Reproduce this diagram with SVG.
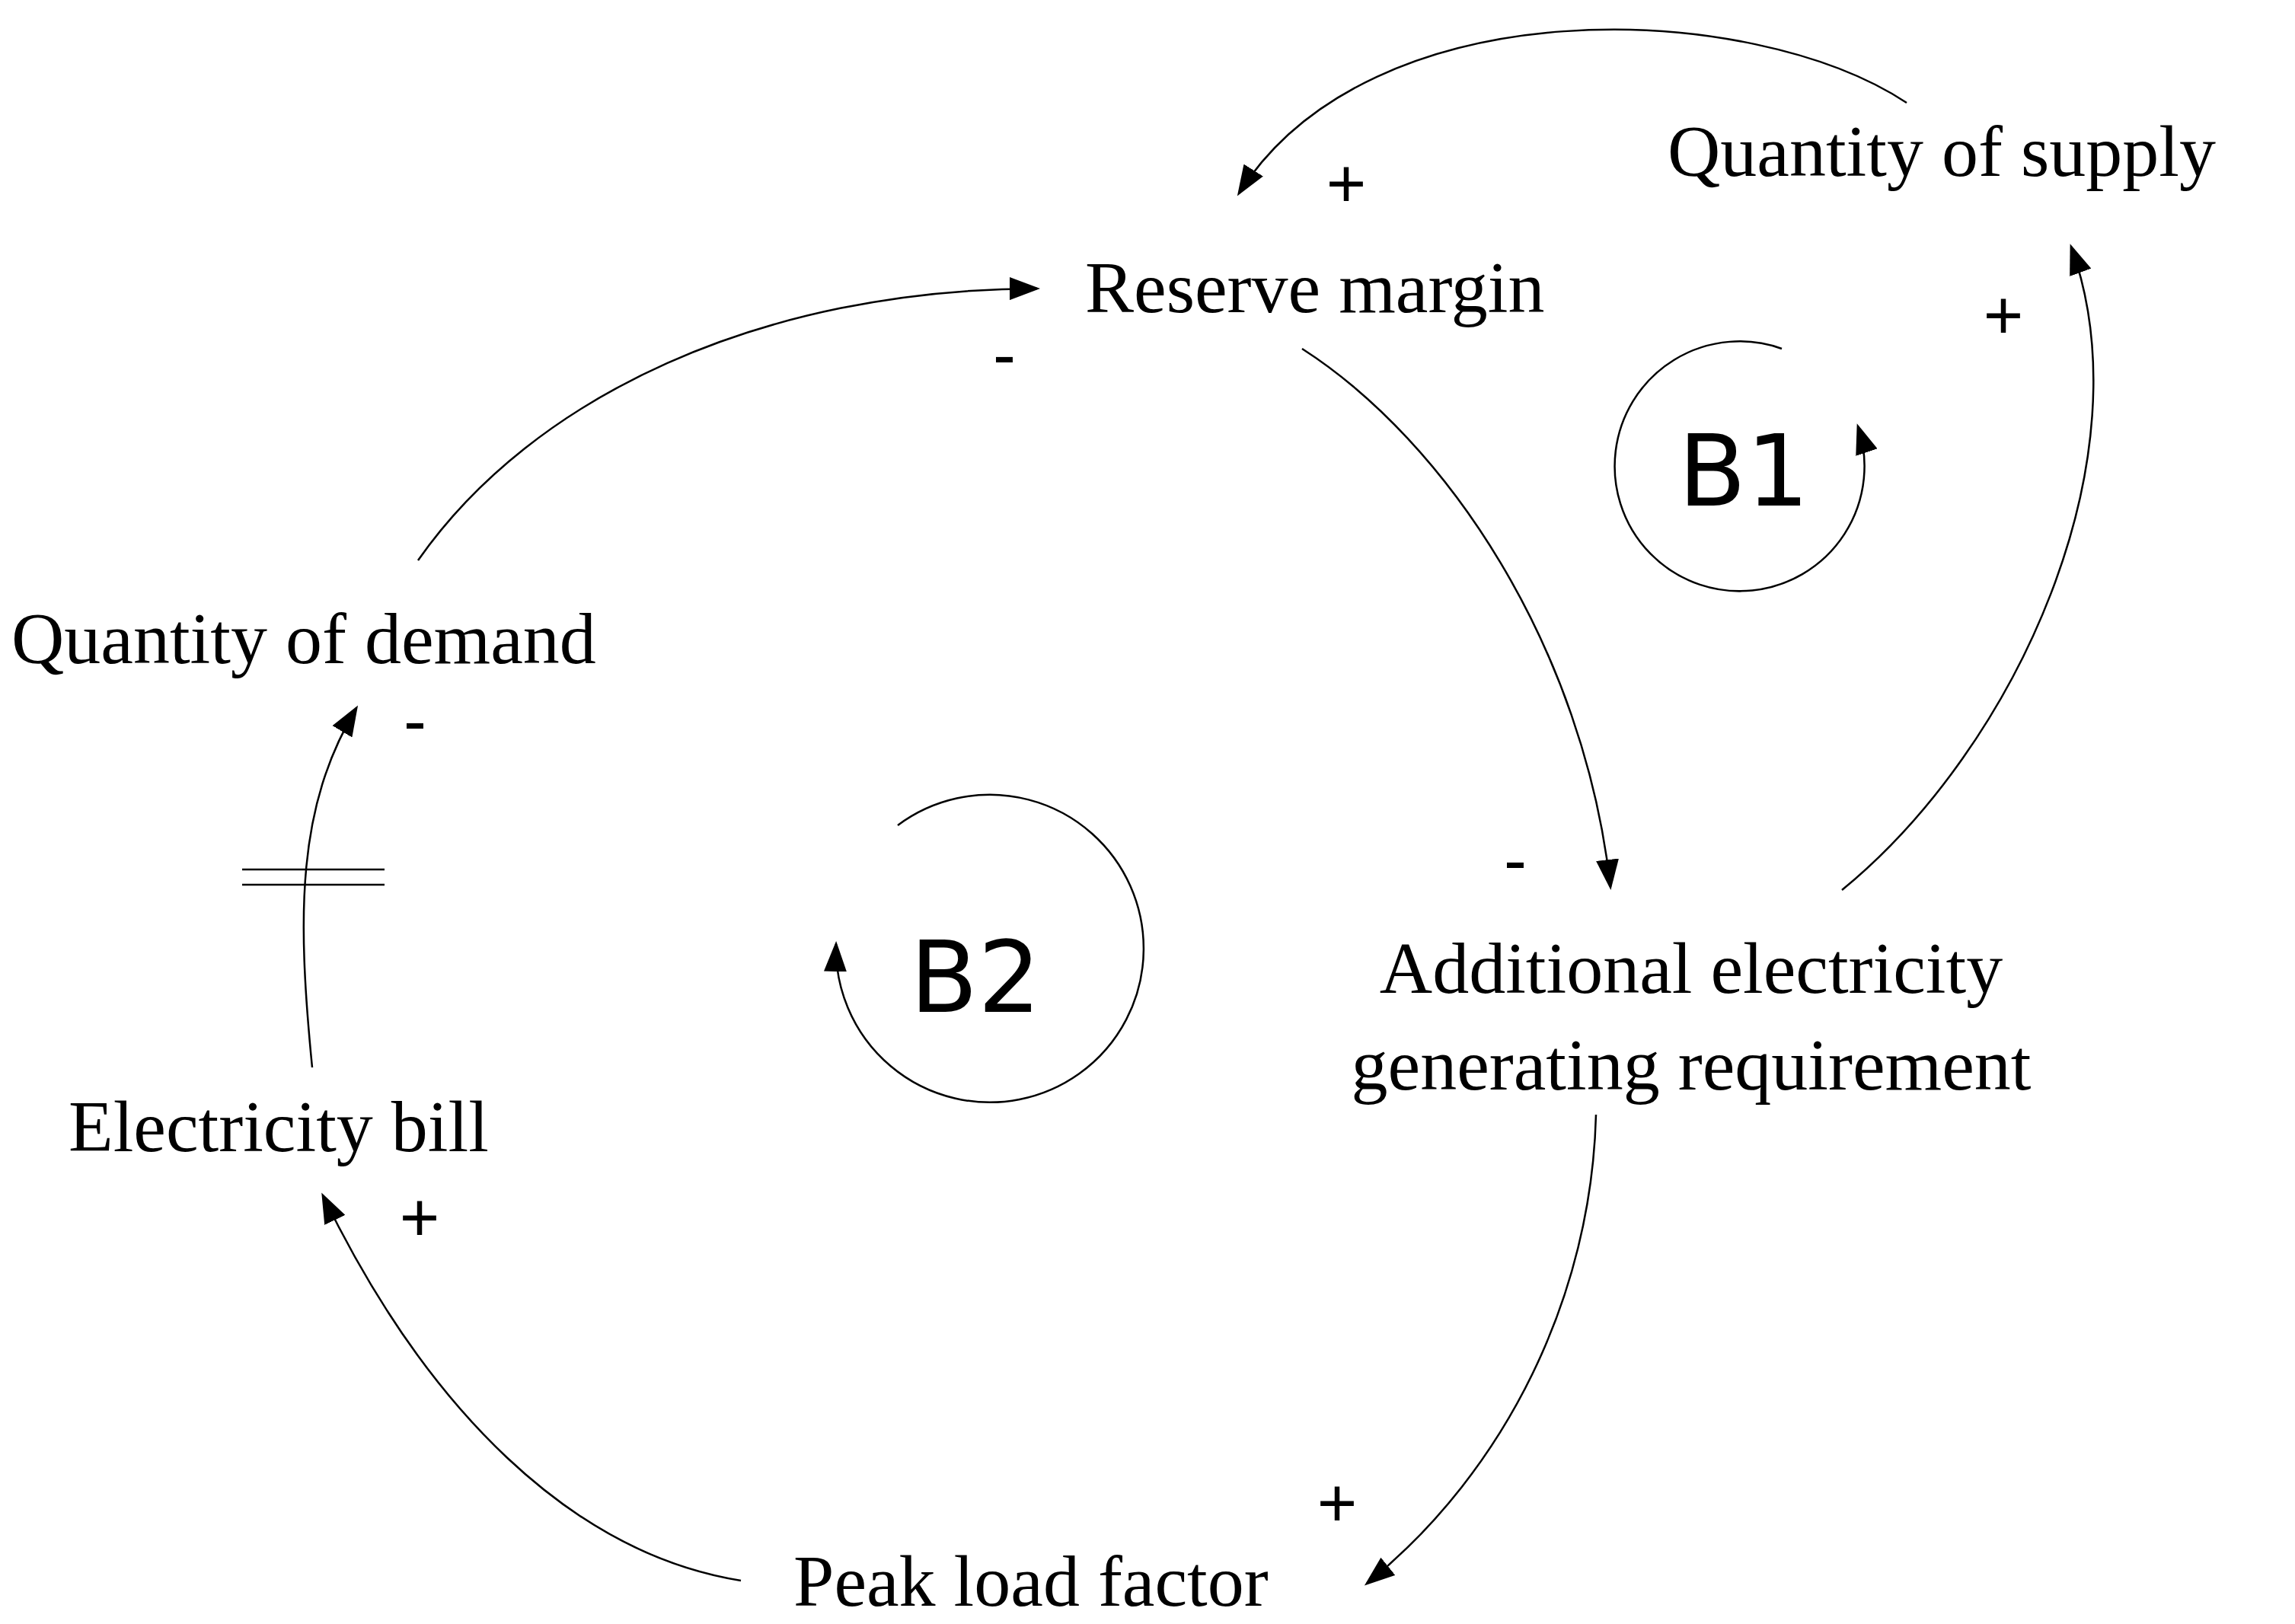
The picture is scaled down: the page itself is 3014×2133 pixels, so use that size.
<svg xmlns="http://www.w3.org/2000/svg" width="3014" height="2133" viewBox="0 0 3014 2133">
<style>
.n{font-family:"Liberation Serif",serif;font-size:96px;fill:#000}
.p{font-family:"Liberation Sans",sans-serif;font-size:90px;fill:#000;text-anchor:middle;dominant-baseline:central}
.l{font-family:"DejaVu Sans",sans-serif;font-size:130px;fill:#000;text-anchor:middle}
.c{fill:none;stroke:#000;stroke-width:2.5}
</style>
<defs>
<marker id="a" markerUnits="userSpaceOnUse" markerWidth="40" markerHeight="30" refX="36" refY="15" orient="auto"><path d="M0,0 L40,15 L0,30 Z" fill="#000"/></marker>
</defs>
<rect width="3014" height="2133" fill="#fff"/>
<g id="connectors">
<path class="c" marker-end="url(#a)" d="M2504,135 C2300,0 1800,-20 1627,254"/>
<path class="c" marker-end="url(#a)" d="M1710,458 C1900,580 2080,850 2115,1165"/>
<path class="c" marker-end="url(#a)" d="M2419,1169 C2650,980 2820,600 2720,324"/>
<path class="c" marker-end="url(#a)" d="M2096,1464 C2090,1700 1980,1930 1795,2080"/>
<path class="c" marker-end="url(#a)" d="M973,2076 C750,2040 560,1850 424,1570"/>
<path class="c" marker-end="url(#a)" d="M410,1402 C390,1200 390,1060 468,930"/>
<path class="c" d="M318,1142 H505 M318,1162 H505"/>
<path class="c" marker-end="url(#a)" d="M549,736 C700,520 1000,380 1362,379"/>
<path class="c" marker-end="url(#a)" d="M2340,458 A164,164 0 1 0 2440,560"/>
<path class="c" marker-end="url(#a)" d="M1179,1084 A202,202 0 1 1 1098,1240"/>
</g>
<g id="polarity">
<text class="p" x="1768" y="241">+</text>
<text class="p" x="1319" y="466">-</text>
<text class="p" x="2631" y="414">+</text>
<text class="p" x="1990" y="1130">-</text>
<text class="p" x="1756" y="1974">+</text>
<text class="p" x="551" y="1599">+</text>
<text class="p" x="545" y="947">-</text>
</g>
<g id="reserve"><text class="n" x="1425" y="410">Reserve margin</text></g>
<g id="supply"><text class="n" x="2190" y="231">Quantity of supply</text></g>
<g id="demand"><text class="n" x="15" y="871">Quantity of demand</text></g>
<g id="additional"><text class="n" x="2221" y="1304" text-anchor="middle">Additional electricity</text><text class="n" x="2221" y="1431" text-anchor="middle">generating requirement</text></g>
<g id="bill"><text class="n" x="90" y="1512">Electricity bill</text></g>
<g id="peak"><text class="n" x="1042" y="2109">Peak load factor</text></g>
<g id="B1"><text class="l" x="2290" y="664">B1</text></g>
<g id="B2"><text class="l" x="1281" y="1329">B2</text></g>
</svg>
